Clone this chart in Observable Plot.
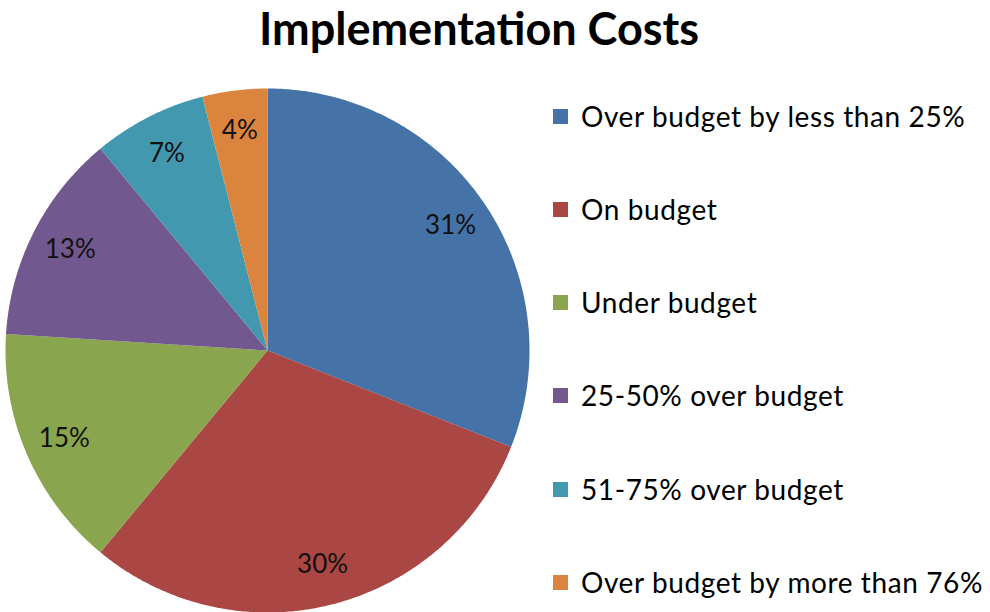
<!DOCTYPE html>
<html>
<head>
<meta charset="utf-8">
<script src="https://cdn.jsdelivr.net/npm/d3@7"></script>
<script src="https://cdn.jsdelivr.net/npm/@observablehq/plot@0.6"></script>
<style>
  html, body { margin: 0; padding: 0; background: #fff; }
  #wrap { position: relative; width: 990px; height: 612px; font-family: Lato, "Open Sans", sans-serif; }
  #wrap svg { position: absolute; left: 0; top: 0; }
  #title { position: absolute; left: 0; width: 958px; top: 1px; text-align: center; font-weight: bold; font-size: 45px; color: #000; }
  #legend { position: absolute; left: 553px; top: 0; }
  .item { position: absolute; white-space: nowrap; font-size: 28px; letter-spacing: 0.6px; color: #000; display: flex; align-items: center; }
  .sw { width: 15px; height: 15px; margin-right: 13px; flex: none; }
</style>
</head>
<body>
<div id="wrap">
  <div id="title">Implementation Costs</div>
  <div id="legend"></div>
</div>
<script>
const categories = [
  "Over budget by less than 25%",
  "On budget",
  "Under budget",
  "25-50% over budget",
  "51-75% over budget",
  "Over budget by more than 76%"
];
const values = [31, 30, 15, 13, 7, 4];
const colors = ["#4572A7", "#AA4643", "#89A54E", "#71588F", "#4198AF", "#DB843D"];

const cx = 267, cy = 350, R = 262;

const arcs = d3.pie().sort(null).value(d => d)(values);

const slices = [];
const labels = [];
arcs.forEach((a, i) => {
  const cat = categories[i];
  slices.push({cat, x: 0, y: 0});
  const n = Math.max(2, Math.ceil((a.endAngle - a.startAngle) / (Math.PI / 360)));
  for (let k = 0; k <= n; k++) {
    const t = a.startAngle + (a.endAngle - a.startAngle) * k / n;
    slices.push({cat, x: Math.sin(t), y: Math.cos(t)});
  }
  slices.push({cat, x: 0, y: 0});
  const m = (a.startAngle + a.endAngle) / 2;
  labels.push({cat, x: 0.845 * Math.sin(m), y: 0.845 * Math.cos(m), text: values[i] + "%"});
});

const chart = Plot.plot({
  width: 990,
  height: 612,
  margin: 0,
  x: {domain: [-1, 1], range: [cx - R, cx + R], axis: null},
  y: {domain: [-1, 1], range: [cy + R, cy - R], axis: null},
  color: {domain: categories, range: colors},
  style: {fontFamily: "Lato, 'Open Sans', sans-serif", background: "transparent"},
  marks: [
    Plot.line(slices, {x: "x", y: "y", z: "cat", fill: "cat", stroke: "none", curve: "linear"}),
    Plot.text(labels, {x: "x", y: "y", text: "text", fontSize: 26, fill: "#111"})
  ]
});
document.getElementById("wrap").appendChild(chart);

const legend = document.getElementById("legend");
const rowY = [116, 209, 302, 395, 489, 582];
categories.forEach((c, i) => {
  const d = document.createElement("div");
  d.className = "item";
  d.style.top = (rowY[i] - 18) + "px";
  d.style.height = "36px";
  d.innerHTML = `<span class="sw" style="background:${colors[i]}"></span><span>${c}</span>`;
  legend.appendChild(d);
});
</script>
</body>
</html>
